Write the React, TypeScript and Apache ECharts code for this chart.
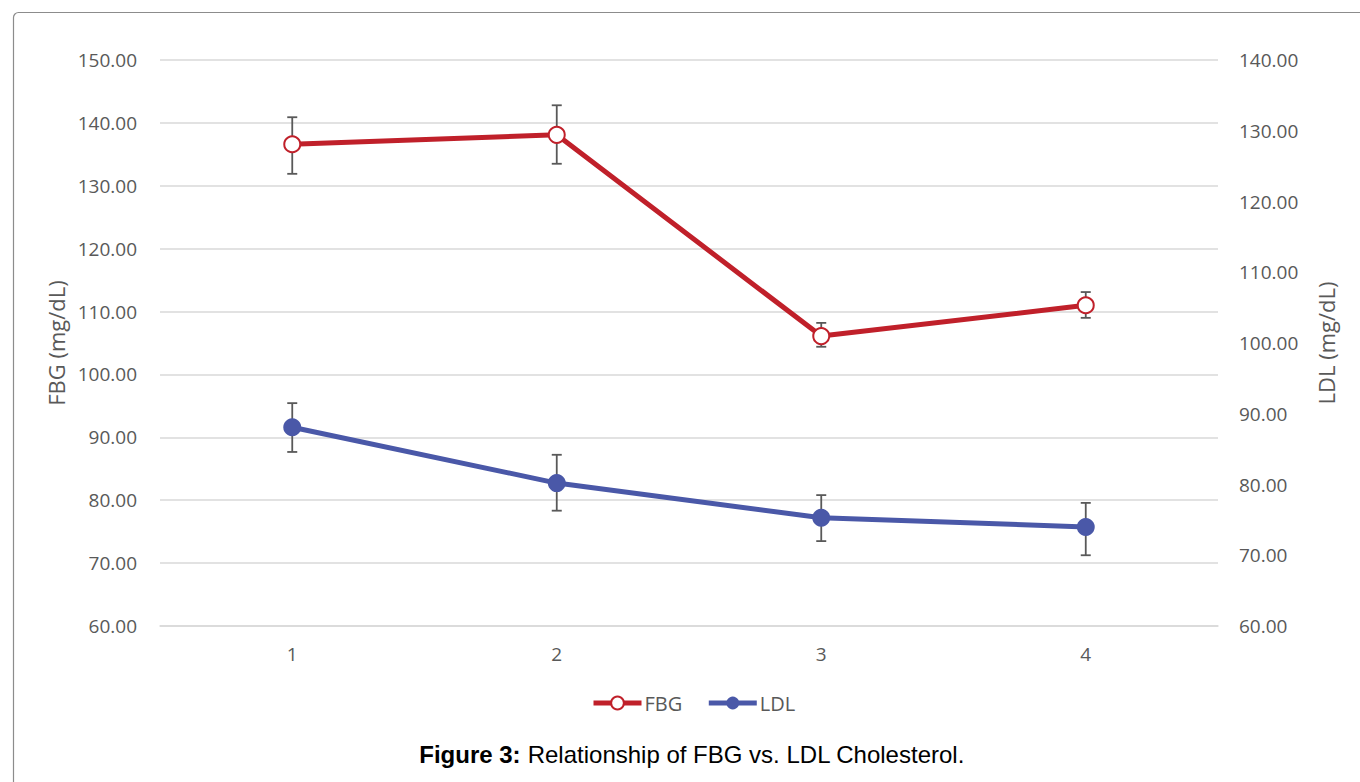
import React, { useEffect, useRef } from "react";
import * as echarts from "echarts";

const categories = ["1", "2", "3", "4"];
const fbgValues = [136.6, 138.1, 106.1, 111.0];
const fbgLow = [131.9, 133.5, 104.4, 109.0];
const fbgHigh = [140.9, 142.8, 108.2, 113.1];
const ldlValues = [88.1, 80.2, 75.3, 74.0];
const ldlLow = [84.6, 76.3, 72.0, 70.0];
const ldlHigh = [91.5, 84.2, 78.5, 77.4];

const RED = "#C0202A";
const BLUE = "#4A58A8";
const GRAY = "#595959";

function errorRender(params: any, api: any) {
  const x = api.value(0);
  const lo = api.coord([x, api.value(1)]);
  const hi = api.coord([x, api.value(2)]);
  const w = 5;
  const style = { stroke: GRAY, lineWidth: 1.8 };
  return {
    type: "group",
    children: [
      { type: "line", shape: { x1: hi[0], y1: hi[1], x2: lo[0], y2: lo[1] }, style },
      { type: "line", shape: { x1: hi[0] - w, y1: hi[1], x2: hi[0] + w, y2: hi[1] }, style },
      { type: "line", shape: { x1: lo[0] - w, y1: lo[1], x2: lo[0] + w, y2: lo[1] }, style },
    ],
  };
}

export default function App() {
  const ref = useRef<HTMLDivElement>(null);
  useEffect(() => {
    document.body.style.margin = "0";
    const chart = echarts.init(ref.current!, null, { renderer: "svg" });
    const axisLabel = {
      color: GRAY,
      fontSize: 19,
      fontFamily: "Open Sans",
      formatter: (v: number) => v.toFixed(2),
    };
    chart.setOption({
      animation: false,
      grid: { left: 160, right: 142, top: 60, bottom: 156 },
      legend: {
        data: ["FBG", "LDL"],
        top: 688,
        left: 586,
        itemWidth: 48,
        itemHeight: 16,
        itemGap: 24,
        lineStyle: { width: 5 },
        textStyle: { color: GRAY, fontSize: 20, fontFamily: "Open Sans", padding: [0, 0, 0, -2] },
      },
      xAxis: {
        type: "category",
        data: categories,
        axisLine: { lineStyle: { color: "#d9d9d9", width: 1.5 } },
        axisTick: { show: false },
        axisLabel: { color: GRAY, fontSize: 19, fontFamily: "Open Sans", margin: 18 },
      },
      yAxis: [
        {
          type: "value",
          min: 60,
          max: 150,
          interval: 10,
          name: "FBG (mg/dL)",
          nameLocation: "middle",
          nameGap: 77,
          nameTextStyle: { color: GRAY, fontSize: 22, fontFamily: "Open Sans" },
          axisLabel: { ...axisLabel, margin: 23 },
          splitLine: { lineStyle: { color: "#d9d9d9", width: 1.5 } },
        },
        {
          type: "value",
          min: 60,
          max: 140,
          interval: 10,
          position: "right",
          name: "LDL (mg/dL)",
          nameLocation: "middle",
          nameGap: 97,
          nameRotate: 90,
          nameTextStyle: { color: GRAY, fontSize: 22, fontFamily: "Open Sans" },
          axisLabel: { ...axisLabel, margin: 21 },
          splitLine: { show: false },
        },
      ],
      series: [
        {
          name: "FBG-err",
          type: "custom",
          yAxisIndex: 0,
          renderItem: errorRender,
          data: categories.map((_, i) => [i, fbgLow[i], fbgHigh[i]]),
          z: 1,
        },
        {
          name: "LDL-err",
          type: "custom",
          yAxisIndex: 1,
          renderItem: errorRender,
          data: categories.map((_, i) => [i, ldlLow[i], ldlHigh[i]]),
          z: 1,
        },
        {
          name: "FBG",
          type: "line",
          yAxisIndex: 0,
          data: fbgValues,
          symbol: "emptyCircle",
          symbolSize: 16,
          showAllSymbol: true,
          lineStyle: { color: RED, width: 5 },
          itemStyle: { color: RED, borderColor: RED, borderWidth: 2 },
          z: 3,
        },
        {
          name: "LDL",
          type: "line",
          yAxisIndex: 1,
          data: ldlValues,
          symbol: "circle",
          symbolSize: 18,
          lineStyle: { color: BLUE, width: 5 },
          itemStyle: { color: BLUE },
          z: 3,
        },
      ],
      graphic: [
        {
          type: "rect",
          left: 11,
          top: 10,
          shape: { width: 1420, height: 820, r: 5 },
          style: { fill: "none", stroke: "#8c8c8c", lineWidth: 1.2 },
          silent: true,
        },
        {
          type: "text",
          x: 692,
          y: 754,
          style: {
            text: "{b|Figure 3:} Relationship of FBG vs. LDL Cholesterol.",
            align: "center",
            verticalAlign: "middle",
            fill: "#000",
            font: "24px 'Liberation Sans', Arial, sans-serif",
            rich: {
              b: { fontWeight: "bold", fontSize: 24, fontFamily: "'Liberation Sans', Arial, sans-serif", fill: "#000" },
            },
          },
        },
      ],
    });
    return () => chart.dispose();
  }, []);
  return <div ref={ref} style={{ width: 1360, height: 782 }} />;
}
